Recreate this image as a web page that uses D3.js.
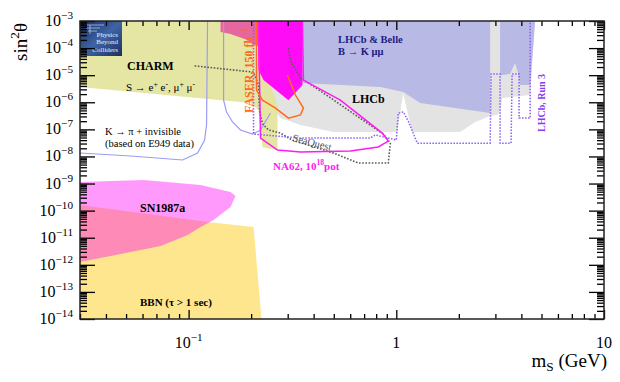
<!DOCTYPE html>
<html>
<head>
<meta charset="utf-8">
<script src="https://cdn.jsdelivr.net/npm/d3@7"></script>
<style>
  body { margin: 0; background: #fff; }
  svg { display: block; }
  text { font-family: "Liberation Serif", "DejaVu Serif", serif; }
</style>
</head>
<body>
<div id="chart"></div>
<script>
// axis ranges: scalar mass (GeV) and mixing sin^2(theta)
const xDomain = [0.03, 10];
const yDomain = [1e-14, 1e-3];
const xTickVals = [0.1, 1, 10];
const xTickText = [["10", "−1"], ["1", ""], ["10", ""]];
const yTickExps = [-14, -13, -12, -11, -10, -9, -8, -7, -6, -5, -4, -3];

// excluded regions, [mass, sin2]
const charmBand = [[0.03, 1e-3], [0.2147, 1e-3], [0.2147, 3.6e-5], [0.2425, 6.6e-6], [0.268, 7.9e-7],
  [0.268, 1.7e-8], [0.227, 2.2e-8], [0.217, 5.2e-7], [0.199, 9.4e-7], [0.03, 3.7e-6]];
const pinkTop = [[0.1425, 1e-3], [0.1425, 3.9e-4], [0.159, 3.3e-4], [0.192, 2.0e-4], [0.205, 1.3e-4],
  [0.217, 1.2e-4], [0.217, 1e-3]];
const magentaBand = [[0.2147, 1e-3], [0.3532, 1e-3], [0.3532, 4.3e-6], [0.3026, 1.2e-6],
  [0.2294, 6.6e-6], [0.217, 1.55e-5]];
const lhcbGray = [[0.217, 1e-3], [4.66, 1e-3], [4.41, 1.85e-6], [3.23, 1.44e-6], [3.16, 4.4e-7],
  [3.06, 3.4e-7], [2.83, 3.1e-7], [2.40, 1.87e-7], [2.03, 8e-8], [1.19, 8e-8], [1.08, 2.2e-6],
  [1.01, 8e-8], [0.498, 8e-8], [0.3455, 1.45e-7], [0.277, 2.6e-7], [0.2345, 1.2e-6], [0.227, 6.6e-6]];
const bkmmMain = [[0.3532, 1e-3], [2.83, 1e-3], [2.83, 4.0e-7], [1.305, 9.4e-7], [1.081, 2.4e-6],
  [0.838, 3.7e-6], [0.3532, 5.2e-6]];
const bkmmRight = [[3.16, 1e-3], [4.66, 1e-3], [4.41, 4.3e-6], [3.95, 4.3e-6], [3.86, 1.2e-5],
  [3.73, 2.8e-5], [3.53, 1.1e-5], [3.16, 1.0e-5]];
const bbnBand = [[0.03, 1.6e-10], [0.1234, 3.8e-11], [0.2054, 2.5e-11], [0.2244, 1e-14], [0.03, 1e-14]];
const sn1987aBand = [[0.03, 1.14e-9], [0.0608, 1.35e-9], [0.1142, 8.8e-10], [0.1592, 4.9e-10],
  [0.1682, 3.5e-10], [0.1592, 1.36e-10], [0.1319, 4.5e-11], [0.1142, 2.5e-11], [0.0989, 1.26e-11],
  [0.0734, 4.9e-12], [0.03, 1.27e-12]];

// sensitivity curves
const e949Left = [[0.03, 1.34e-8], [0.0526, 1.04e-8], [0.0936, 7.4e-9], [0.1105, 1.34e-8],
  [0.1194, 4.0e-8], [0.122, 1.45e-7], [0.1234, 1e-3]];
const e949Right = [[0.1474, 1e-3], [0.1474, 1.2e-6], [0.1523, 4.4e-7], [0.1627, 1.87e-7],
  [0.1778, 9.5e-8], [0.2031, 6.7e-8], [0.222, 9.5e-8], [0.2479, 4.0e-7]];
const seaQuest = [[0.1069, 2.2e-5], [0.2054, 1.3e-5], [0.217, 4.3e-6], [0.2195, 4.8e-7],
  [0.2269, 1.6e-7], [0.2425, 9.5e-8], [0.2769, 7.3e-8], [0.315, 4.0e-8], [0.498, 1.34e-8],
  [0.657, 5.7e-9], [0.915, 5.7e-9], [0.936, 3.1e-8], [0.866, 6.7e-8], [0.635, 3.4e-7],
  [0.446, 2.2e-6], [0.3455, 7.9e-6], [0.309, 3.6e-5], [0.3026, 1.1e-4]];
const na62 = [[0.217, 1e-3], [0.222, 4.8e-8], [0.268, 1.73e-8], [0.3455, 1.46e-8], [0.601, 1.59e-8],
  [0.819, 2.23e-8], [0.915, 3.7e-8], [0.856, 7.3e-8], [0.538, 1.2e-6], [0.357, 6.6e-6], [0.3532, 1e-3]];
const faser = [[0.2123, 1e-3], [0.2123, 2.8e-6], [0.2269, 1.2e-6], [0.262, 6.1e-7], [0.3026, 2.6e-7],
  [0.3455, 3.4e-7], [0.3572, 6.1e-7], [0.3268, 1.85e-6], [0.2992, 1.0e-5]];
const lhcbRun3 = [[0.2054, 1e-3], [0.2054, 6.7e-8], [0.3455, 4.8e-8], [0.75, 4.8e-8], [0.793, 6.2e-8],
  [1.0, 4.05e-8], [1.022, 4.0e-7], [1.081, 4.4e-7], [1.142, 2.0e-7], [1.262, 3.1e-8], [2.83, 3.1e-8],
  [2.86, 1.1e-5], [3.16, 1.1e-5], [3.16, 3.1e-8], [3.57, 3.1e-8], [3.61, 1.1e-5], [3.90, 1.1e-5],
  [3.90, 2.6e-7], [4.41, 2.6e-7], [4.41, 1e-3]];

const width = 620, height = 382;
const plot = { left: 80, right: 604, top: 21, bottom: 319 };

const svg = d3.select("#chart").append("svg")
  .attr("width", width)
  .attr("height", height);

const x = d3.scaleLog().domain(xDomain).range([plot.left, plot.right]);
const y = d3.scaleLog().domain(yDomain).range([plot.bottom, plot.top]);

svg.append("defs").append("clipPath").attr("id", "plotclip")
  .append("rect")
  .attr("x", plot.left).attr("y", plot.top)
  .attr("width", plot.right - plot.left).attr("height", plot.bottom - plot.top);

const linePath = d3.line().x(d => x(d[0])).y(d => y(d[1]));
const g = svg.append("g").attr("clip-path", "url(#plotclip)");

// filled regions, back to front
function area(pts, fill, opacity) {
  return g.append("path").attr("d", linePath(pts) + "Z").attr("fill", fill)
    .attr("fill-opacity", opacity || 1);
}
area(lhcbGray, "#e3e3e3");
area(bkmmMain, "#b9b9e6");
area(bkmmRight, "#b9b9e6");
area(charmBand, "#e3e39a", 0.9);
area(pinkTop, "#e6679f");
area(magentaBand, "#ff0cf6");
area(bbnBand, "#fde68e");
area(sn1987aBand, "#ff00f4", 0.4);

// curves
function curve(pts, color, w, dash) {
  g.append("path").attr("d", linePath(pts))
    .attr("fill", "none").attr("stroke", color).attr("stroke-width", w)
    .attr("stroke-dasharray", dash || null);
}
curve(e949Left, "#9c9cf4", 1.2);
curve(e949Right, "#9c9cf4", 1.2);
curve(seaQuest, "#5a5a5a", 1.6, "1.6,1.6");
curve(na62, "#ff1cf0", 1.5);
curve(faser, "#ff6a1e", 1.5);
curve(lhcbRun3, "#8b5cf6", 1.5, "1.5,1.5");

// helper for text with super/subscripts: parts = [[str, shift], ...]
function label(parent, parts, attrs, size) {
  const t = parent.append("text");
  Object.entries(attrs).forEach(([k, v]) => t.attr(k, v));
  t.style("font-size", size + "px");
  let shift = 0;
  parts.forEach(([s, sh]) => {
    const sp = t.append("tspan").text(s);
    const target = sh || 0;
    if (target !== shift) sp.attr("dy", target - shift);
    if (target !== 0) sp.style("font-size", (size * 0.7) + "px");
    shift = target;
  });
  return t;
}

// region labels
label(svg, [["CHARM"]], { x: 127, y: 70, "font-weight": "bold" }, 12);
label(svg, [["S → e"], ["+", -4], [" e", 0], ["-", -4], [", μ", 0], ["+", -4], [" μ", 0], ["-", -4]],
  { x: 126, y: 91 }, 11);
label(svg, [["K → π + invisible"]], { x: 105, y: 135 }, 10.5);
label(svg, [["(based on E949 data)"]], { x: 105, y: 147 }, 10.5);
label(svg, [["SN1987a"]], { x: 140, y: 212, "font-weight": "bold" }, 12);
label(svg, [["BBN (τ > 1 sec)"]], { x: 140, y: 306, "font-weight": "bold" }, 11);
label(svg, [["LHCb & Belle"]], { x: 338, y: 43, "font-weight": "bold", fill: "#1c1c82" }, 10.5);
label(svg, [["B → K μμ"]], { x: 338, y: 55, "font-weight": "bold", fill: "#1c1c82" }, 10.5);
label(svg, [["LHCb"]], { x: 352, y: 103, "font-weight": "bold" }, 12);
label(svg, [["NA62, 10"], ["18", -5], ["pot", 0]], { x: 273, y: 170, "font-weight": "bold", fill: "#ff1cf0" }, 11);
label(svg, [["SeaQuest"]], { transform: "translate(292,141) rotate(14)", fill: "#555" }, 10.5);
label(svg, [["FASER, 150 fb"], ["−1", -5]],
  { transform: "translate(253,113) rotate(-90)", "font-weight": "bold", fill: "#ff6a1e" }, 12);
label(svg, [["LHCb, Run 3"]],
  { transform: "translate(545,132) rotate(-90)", "font-weight": "bold", fill: "#8a3cf2" }, 10);

// Physics Beyond Colliders logo
const grad = svg.append("defs").append("linearGradient").attr("id", "pbc")
  .attr("x1", 0).attr("y1", 0).attr("x2", 1).attr("y2", 1);
grad.append("stop").attr("offset", 0).attr("stop-color", "#1b2a57");
grad.append("stop").attr("offset", 0.5).attr("stop-color", "#3d64a6");
grad.append("stop").attr("offset", 1).attr("stop-color", "#1e2f60");
svg.append("rect").attr("x", 80).attr("y", 21).attr("width", 42).attr("height", 35).attr("fill", "url(#pbc)");
svg.append("path").attr("d", "M84,25H104M86,28H100M88,31H97M90,25V34")
  .attr("stroke", "#b8d4ff").attr("stroke-width", 0.7).attr("fill", "none");
[["Physics", 37], ["Beyond", 44], ["Colliders", 52]].forEach(([s, yy]) =>
  svg.append("text").attr("x", 118).attr("y", yy).attr("text-anchor", "end")
    .attr("fill", "#e6eeff").style("font-size", "7px").text(s));

// tick labels
yTickExps.forEach(e => {
  label(svg, [["10"], ["−" + Math.abs(e), -7]],
    { x: 73, y: y(Math.pow(10, e)) + 5, "text-anchor": "end" }, 16);
});
xTickVals.forEach((v, i) => {
  const [base, sup] = xTickText[i];
  const parts = sup ? [[base], [sup, -7]] : [[base]];
  label(svg, parts, { x: x(v), y: 348, "text-anchor": "middle" }, 16);
});

// axis titles
label(svg, [["sin"], ["2", -8], ["θ", 0]],
  { transform: "translate(27,23) rotate(-90)", "text-anchor": "end" }, 19);
label(svg, [["m"], ["S", 4], [" (GeV)", 0]], { x: 607, y: 367, "text-anchor": "end" }, 19);

// tick values: every 1..9 x decade
function logTicks(lo, hi) {
  const out = [];
  const e0 = Math.floor(Math.log10(lo)), e1 = Math.ceil(Math.log10(hi));
  for (let e = e0; e <= e1; e++) {
    for (let k = 1; k < 10; k++) {
      const v = k * Math.pow(10, e);
      if (v >= lo * 0.999 && v <= hi * 1.001) out.push({ v: v, major: k === 1 });
    }
  }
  return out;
}
const xTicks = logTicks(xDomain[0], xDomain[1]);
const yTicks = logTicks(yDomain[0], yDomain[1]);
const xMaj = xTicks.filter(d => d.major).map(d => d.v);
const xMin = xTicks.filter(d => !d.major).map(d => d.v);
const yMaj = yTicks.filter(d => d.major).map(d => d.v);
const yMin = yTicks.filter(d => !d.major).map(d => d.v);

// inward ticks with d3 axes, no domain line, no labels
function tickAxis(axisFn, scale, vals, size, transform) {
  const gg = svg.append("g")
    .attr("transform", transform)
    .attr("color", "#000")
    .call(axisFn(scale).tickValues(vals).tickSize(size).tickFormat(""));
  gg.select(".domain").remove();
  gg.selectAll(".tick line").attr("stroke", "#000").attr("stroke-width", 1.3);
}
tickAxis(d3.axisBottom, x, xMaj, -9, `translate(0,${plot.bottom})`);
tickAxis(d3.axisBottom, x, xMin, -5, `translate(0,${plot.bottom})`);
tickAxis(d3.axisTop, x, xMaj, -9, `translate(0,${plot.top})`);
tickAxis(d3.axisTop, x, xMin, -5, `translate(0,${plot.top})`);
tickAxis(d3.axisLeft, y, yMaj, -15, `translate(${plot.left},0)`);
tickAxis(d3.axisLeft, y, yMin, -7, `translate(${plot.left},0)`);
tickAxis(d3.axisRight, y, yMaj, -15, `translate(${plot.right},0)`);
tickAxis(d3.axisRight, y, yMin, -7, `translate(${plot.right},0)`);

// frame
svg.append("rect")
  .attr("x", plot.left).attr("y", plot.top)
  .attr("width", plot.right - plot.left).attr("height", plot.bottom - plot.top)
  .attr("fill", "none").attr("stroke", "#222").attr("stroke-width", 1.5);
</script>
</body>
</html>
